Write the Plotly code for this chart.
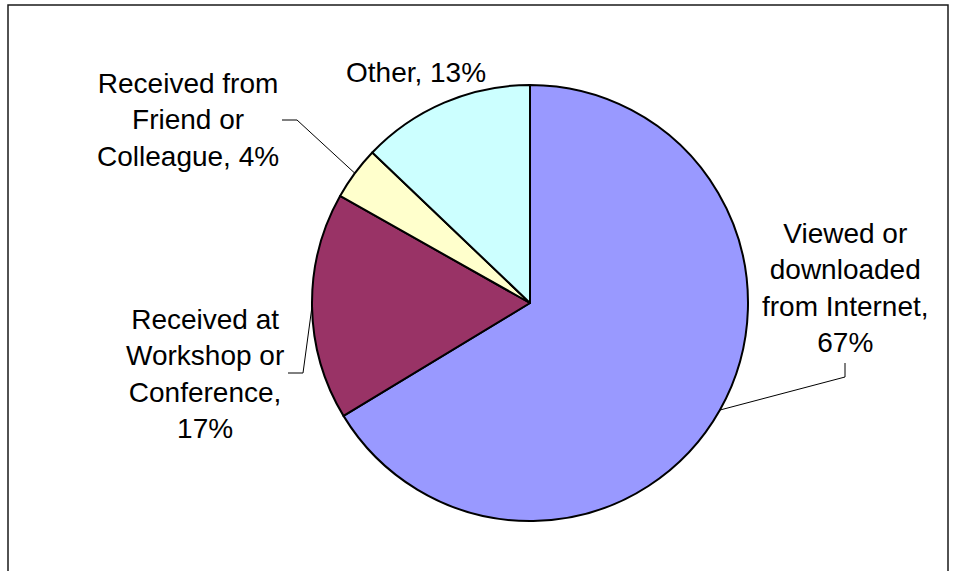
import math
import plotly.graph_objects as go

# Survey: how respondents obtained the material
categories = [
    "Viewed or downloaded from Internet",
    "Received at Workshop or Conference",
    "Received from Friend or Colleague",
    "Other",
]
values = [67, 17, 4, 13]
colors = ["#9999FF", "#993366", "#FFFFCC", "#CCFFFF"]

# Wrapped label text (name part) and how the percentage is joined to it
label_names = [
    "Viewed or<br>downloaded<br>from Internet",
    "Received at<br>Workshop or<br>Conference",
    "Received from<br>Friend or<br>Colleague",
    "Other",
]
label_joins = [",<br>", ",<br>", ", ", ", "]

W, H = 958, 571
CX, CY, R = 530, 303, 218  # pie centre and radius in pixels

# Label centres (pixels) and leader-line elbows (None = no leader)
label_pos = [(845, 288), (205, 374), (188, 120), (416, 72)]
leader_elbows = [
    [(845, 363), (845, 377)],
    [(288, 373), (303, 373)],
    [(282, 120), (297, 120)],
    None,
]


def px(x):
    return x / W


def py(y):
    return 1 - y / H


fig = go.Figure(
    go.Pie(
        labels=categories,
        values=values,
        sort=False,
        direction="clockwise",
        rotation=0,
        marker=dict(colors=colors, line=dict(color="#000000", width=2)),
        textinfo="none",
        textposition="none",
        hoverinfo="label+value",
        showlegend=False,
        domain=dict(
            x=[px(CX - R), px(CX + R)],
            y=[py(CY + R), py(CY - R)],
        ),
    )
)

annotations = []
shapes = []
total = sum(values)
cum = 0
for i, v in enumerate(values):
    mid = (cum + v / 2) / total
    cum += v
    ang = 2 * math.pi * mid  # clockwise from 12 o'clock
    ex, ey = CX + R * math.sin(ang), CY - R * math.cos(ang)

    lx, ly = label_pos[i]
    annotations.append(
        dict(
            text=f"{label_names[i]}{label_joins[i]}{v}%",
            x=px(lx), y=py(ly), xref="paper", yref="paper",
            xanchor="center", yanchor="middle", align="center",
            showarrow=False,
            font=dict(family="Liberation Sans, Arial, sans-serif", size=28, color="#000000"),
        )
    )

    elbow = leader_elbows[i]
    if elbow:
        pts = elbow + [(ex, ey)]
        path = "M " + " L ".join(f"{px(x)},{py(y)}" for x, y in pts)
        shapes.append(
            dict(type="path", path=path, xref="paper", yref="paper",
                 line=dict(color="#000000", width=1))
        )

# Chart-area frame
shapes.append(
    dict(type="rect", xref="paper", yref="paper",
         x0=px(8), x1=px(948), y0=-0.05, y1=py(5),
         line=dict(color="#1a1a1a", width=1.5), fillcolor="rgba(0,0,0,0)")
)

fig.update_layout(
    width=W, height=H,
    margin=dict(l=0, r=0, t=0, b=0),
    paper_bgcolor="#FFFFFF",
    plot_bgcolor="#FFFFFF",
    annotations=annotations,
    shapes=shapes,
)

fig.write_html("out.html")
